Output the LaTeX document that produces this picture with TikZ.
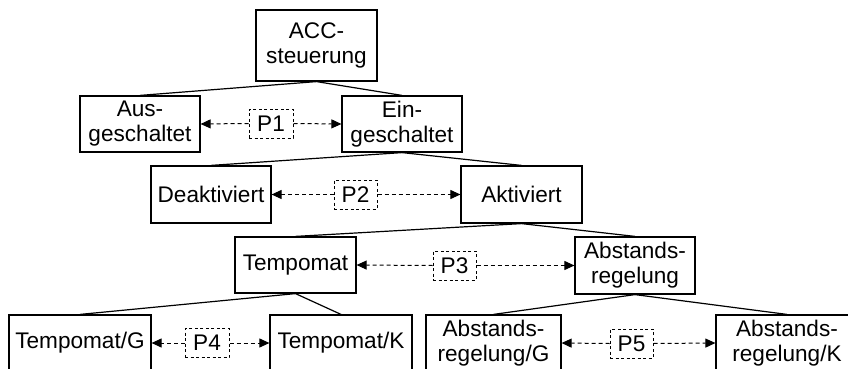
\documentclass[tikz,border=0pt]{standalone}
\usepackage{fontspec}
\setmainfont{Liberation Sans}
\usetikzlibrary{arrows.meta}
\begin{document}
\begin{tikzpicture}[x=1pt,y=-1pt,
  state/.style={draw, line width=1.2pt, inner sep=0pt, align=center,
    font=\fontsize{22.6}{25}\selectfont},
  pbox/.style={draw, dash pattern=on 3pt off 2.5pt, line width=1pt,
    inner sep=0pt, minimum width=43pt, minimum height=29pt,
    font=\fontsize{22.6}{25}\selectfont},
  branch/.style={line width=1.2pt},
  rel/.style={line width=1pt, dash pattern=on 4pt off 3pt,
    -{Triangle[length=10pt,width=9pt]}}]
\clip (0,0) rectangle (848,369);
\useasboundingbox (0,0) rectangle (848,369);
% states of the controller
\node[state, minimum width=121pt, minimum height=71pt] (acc) at (316.5,45.5) {ACC-\\steuerung};
\node[state, minimum width=120pt, minimum height=56pt] (aus) at (140,124) {Aus-\\geschaltet};
\node[state, minimum width=120pt, minimum height=56pt] (ein) at (402,124) {Ein-\\geschaltet};
\node[state, minimum width=120pt, minimum height=57pt] (deakt) at (211,194.5) {Deaktiviert};
\node[state, minimum width=121pt, minimum height=57pt] (akt) at (521.5,194.5) {Aktiviert};
\node[state, minimum width=121pt, minimum height=56pt] (temp) at (295.5,265) {Tempomat};
\node[state, minimum width=120pt, minimum height=57pt] (abst) at (635,265.5) {Abstands-\\regelung};
\node[state, minimum width=142pt, minimum height=56pt] (tg) at (80,343) {Tempomat/G};
\node[state, minimum width=142pt, minimum height=56pt] (tk) at (341,343) {Tempomat/K};
\node[state, minimum width=135pt, minimum height=56pt] (ag) at (493.5,343) {Abstands-\\regelung/G};
\node[state, minimum width=142pt, minimum height=56pt] (ak) at (787,343) {Abstands-\\regelung/K};
% transition labels
\node[pbox, minimum width=44pt] (p1) at (271,123.5) {P1};
\node[pbox] (p2) at (355.5,194.5) {P2};
\node[pbox] (p3) at (454.5,265.5) {P3};
\node[pbox, minimum width=44pt] (p4) at (207,343) {P4};
\node[pbox] (p5) at (631.5,343.5) {P5};
% hierarchy
\foreach \parent/\child in {acc/aus, acc/ein, ein/deakt, ein/akt, akt/temp, akt/abst,
  temp/tg, temp/tk, abst/ag, abst/ak}
  \draw[branch] (\parent.south) -- (\child.north);
% transitions between sibling states
\draw[rel] (p1.west) -- (aus.east);
\draw[rel] (p1.east) -- (ein.west);
\draw[rel] (p2.west) -- (deakt.east);
\draw[rel] (p2.east) -- (akt.west);
\draw[rel] (p3.west) -- (temp.east);
\draw[rel] (p3.east) -- (abst.west);
\draw[rel] (p4.west) -- (tg.east);
\draw[rel] (p4.east) -- (tk.west);
\draw[rel] (p5.west) -- (ag.east);
\draw[rel] (p5.east) -- (ak.west);
\end{tikzpicture}
\end{document}
